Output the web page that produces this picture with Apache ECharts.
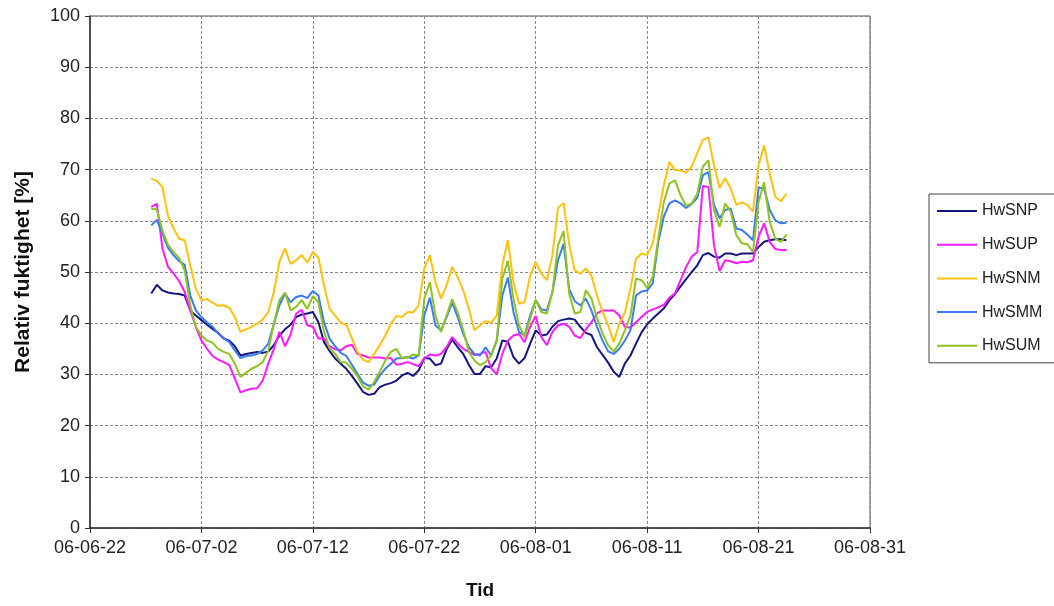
<!DOCTYPE html>
<html><head><meta charset="utf-8">
<script src="https://cdn.jsdelivr.net/npm/echarts@6/dist/echarts.min.js"></script>
<style>html,body{margin:0;padding:0;background:#fff}#c{width:1054px;height:606px}</style>
</head><body><div id="c"></div>
<script>
// day offsets from 06-06-22
const days = [5.5,6,6.5,7,7.5,8,8.5,9,9.5,10,
10.5,11,11.5,12,12.5,13,13.5,14,14.5,15,
15.5,16,16.5,17,17.5,18,18.5,19,19.5,20,
20.5,21,21.5,22,22.5,23,23.5,24,24.5,25,
25.5,26,26.5,27,27.5,28,28.5,29,29.5,30,
30.5,31,31.5,32,32.5,33,33.5,34,34.5,35,
35.5,36,36.5,37,37.5,38,38.5,39,39.5,40,
40.5,41,41.5,42,42.5,43,43.5,44,44.5,45,
45.5,46,46.5,47,47.5,48,48.5,49,49.5,50,
50.5,51,51.5,52,52.5,53,53.5,54,54.5,55,
55.5,56,56.5,57,57.5,58,58.5,59,59.5,60,
60.5,61,61.5,62,62.5];
const tickLabels = ['06-06-22','06-07-02','06-07-12','06-07-22','06-08-01','06-08-11','06-08-21','06-08-31'];
const seriesNames = ['HwSNP','HwSUP','HwSNM','HwSMM','HwSUM'];
const HwSNP = [45.8,47.5,46.4,46.0,45.8,45.7,45.4,42.5,41.5,40.6,
39.7,38.9,38.1,37.0,36.6,35.5,33.7,34.0,34.2,34.4,
34.2,34.5,35.7,37.6,38.8,39.7,41.2,41.7,41.9,42.2,
40.2,36.3,34.6,33.1,32.1,31.1,29.7,28.2,26.6,26.0,
26.2,27.5,28.0,28.3,28.8,29.8,30.3,29.7,30.8,33.2,
33.1,31.8,32.1,34.9,36.8,35.3,34.0,31.9,30.1,30.1,
31.6,31.4,33.1,36.6,36.4,33.4,32.1,33.2,36.0,38.6,
37.6,37.8,39.3,40.4,40.7,40.9,40.7,39.3,38.1,37.7,
35.3,33.8,32.3,30.5,29.5,32.1,33.7,36.0,38.2,39.8,
40.9,41.9,42.9,44.5,45.7,47.2,48.6,50.0,51.3,53.3,
53.7,53.0,52.8,53.6,53.6,53.3,53.6,53.6,53.6,54.9,
55.9,56.2,56.4,56.4,56.2];
const HwSUP = [62.7,63.3,54.6,51.0,49.7,48.2,46.1,42.5,39.3,36.6,
35.0,33.6,32.9,32.4,31.8,29.2,26.5,26.9,27.2,27.3,
28.8,32.1,35.0,38.3,35.5,37.8,41.9,42.6,39.6,39.3,
37.0,37.0,35.5,34.9,34.7,35.5,35.8,34.0,33.7,33.3,
33.3,33.3,33.1,33.2,31.9,32.1,32.4,32.0,31.6,33.1,
33.9,33.7,34.0,35.3,37.3,36.0,35.0,34.4,33.8,34.0,
34.4,31.2,30.0,34.0,36.6,37.6,37.9,36.3,39.3,41.4,
37.3,35.7,38.3,39.6,39.9,39.3,37.6,37.1,38.8,40.2,
41.9,42.5,42.5,42.5,41.5,39.3,39.1,40.2,41.2,42.2,
42.7,43.1,43.6,45.0,45.8,48.4,51.0,53.0,53.9,66.8,
66.6,55.2,50.2,52.3,52.1,51.7,52.0,51.9,52.3,56.9,
59.5,55.9,54.5,54.3,54.3];
const HwSNM = [68.2,67.8,66.6,61.0,58.5,56.5,56.2,51.3,46.7,44.5,
44.7,44.0,43.4,43.5,43.0,41.2,38.3,38.8,39.3,39.9,
40.7,42.2,46.1,52.0,54.6,51.6,52.3,53.3,51.8,53.9,
52.8,47.4,42.8,41.5,40.1,39.7,37.1,34.4,32.9,32.4,
34.0,35.7,37.6,39.9,41.4,41.2,42.2,42.1,43.5,50.7,
53.3,48.0,44.8,47.4,51.0,49.0,46.4,42.8,38.6,39.6,
40.4,40.1,41.5,51.3,56.2,48.0,43.8,44.1,49.3,52.0,
49.7,48.4,53.3,62.5,63.5,55.5,50.3,49.7,50.7,49.3,
45.4,42.2,39.6,36.3,39.9,42.1,46.7,52.6,53.6,53.3,
55.6,61.1,67.0,71.5,69.9,69.8,69.4,70.6,73.2,75.8,
76.3,70.9,66.4,68.3,66.3,63.1,63.6,63.1,61.8,70.9,
74.7,69.3,64.7,63.8,65.3];
const HwSMM = [59.1,60.2,57.5,54.7,53.3,52.1,51.4,45.4,42.5,41.2,
40.2,39.3,38.0,37.1,36.3,34.7,33.2,33.6,33.7,34.0,
34.7,36.0,39.9,43.5,45.8,44.1,45.1,45.4,44.9,46.3,
45.4,40.2,37.0,35.5,34.2,33.6,31.9,30.1,28.4,27.8,
28.0,29.8,31.1,32.1,33.1,33.2,33.4,33.1,33.7,41.5,
45.0,39.6,38.6,41.2,44.0,41.2,37.9,35.3,34.0,33.7,
35.3,33.7,36.6,45.4,48.9,42.2,38.3,37.6,41.5,44.5,
42.7,42.5,46.1,52.3,55.5,46.7,44.3,43.5,44.8,42.5,
39.3,36.6,34.5,34.0,35.0,36.6,38.6,45.4,46.2,46.4,
47.8,55.9,60.8,63.4,64.0,63.4,62.5,63.3,64.5,68.9,
69.5,63.1,60.5,62.1,62.4,58.5,58.2,57.3,56.2,66.5,
66.3,62.1,60.1,59.5,59.6];
const HwSUM = [62.4,62.2,58.1,55.3,53.9,52.7,50.3,43.5,39.3,37.6,
36.6,36.2,35.0,34.4,34.0,32.1,29.5,30.3,31.1,31.6,
32.4,34.7,39.9,44.5,46.0,42.5,43.2,44.5,42.8,45.3,
44.1,38.3,35.1,34.0,32.4,32.3,31.1,29.7,27.7,27.0,
28.5,30.5,32.7,34.4,35.0,33.1,33.3,33.9,33.7,44.8,
48.0,41.5,38.3,41.5,44.7,42.1,38.6,34.4,32.7,31.8,
32.4,33.7,36.6,48.7,52.2,44.8,39.6,37.3,40.9,44.5,
42.2,41.9,46.1,55.2,58.0,45.8,41.9,42.2,46.4,44.8,
41.0,38.0,35.7,34.5,36.0,38.6,41.5,48.7,48.4,46.9,
49.1,56.5,63.7,67.3,67.9,65.0,62.9,63.4,65.3,70.6,
71.8,62.1,58.8,63.4,61.8,57.2,55.6,55.4,53.9,63.7,
67.5,59.8,56.5,55.9,57.3];

const valuesList = [HwSNP, HwSUP, HwSNM, HwSMM, HwSUM];
const colors = ['#16167e', '#ff1aff', '#ffc20e', '#3a7bf0', '#8fc31f'];
const font = 'Liberation Sans, Arial, sans-serif';

const chart = echarts.init(document.getElementById('c'), null, {renderer: 'canvas'});
const option = {
  animation: false,
  backgroundColor: '#fff',
  grid: {left: 90, top: 16, right: 184, bottom: 78, show: true, borderColor: '#555', borderWidth: 1},
  xAxis: {
    type: 'value', min: 0, max: 70, interval: 10,
    name: 'Tid', nameLocation: 'middle', nameGap: 53,
    nameTextStyle: {fontFamily: font, fontWeight: 'bold', fontSize: 19, color: '#111'},
    axisLine: {show: true, onZero: false, lineStyle: {color: '#333', width: 1.5}},
    axisTick: {show: true, length: 5, lineStyle: {color: '#333'}},
    axisLabel: {formatter: v => tickLabels[Math.round(v / 10)], fontFamily: font, fontSize: 18, color: '#222', margin: 11, showMinLabel: true, showMaxLabel: true},
    splitLine: {show: true, lineStyle: {type: [3, 2], color: '#8a8a8a', width: 1}}
  },
  yAxis: {
    type: 'value', min: 0, max: 100, interval: 10,
    name: 'Relativ fuktighet [%]', nameLocation: 'middle', nameGap: 56,
    nameTextStyle: {fontFamily: font, fontWeight: 'bold', fontSize: 21, color: '#111'},
    axisLine: {show: true, lineStyle: {color: '#333', width: 1.5}},
    axisTick: {show: true, length: 5, lineStyle: {color: '#333'}},
    axisLabel: {fontFamily: font, fontSize: 18, color: '#222', margin: 10},
    splitLine: {show: true, lineStyle: {type: [3, 2], color: '#8a8a8a', width: 1}}
  },
  legend: {
    orient: 'vertical', left: 929, top: 194,
    icon: 'rect', itemWidth: 40, itemHeight: 2, itemGap: 17.7,
    padding: [9, 14, 9, 8],
    borderColor: '#444', borderWidth: 1,
    textStyle: {fontFamily: font, fontSize: 16, color: '#222', lineHeight: 14, height: 14},
    data: seriesNames
  },
  series: seriesNames.map((n, i) => ({
    name: n, type: 'line', symbol: 'none', showSymbol: false,
    color: colors[i],
    lineStyle: {width: 2, color: colors[i]},
    data: days.map((d, j) => [d, valuesList[i][j]])
  }))
};
chart.setOption(option);
</script></body></html>
